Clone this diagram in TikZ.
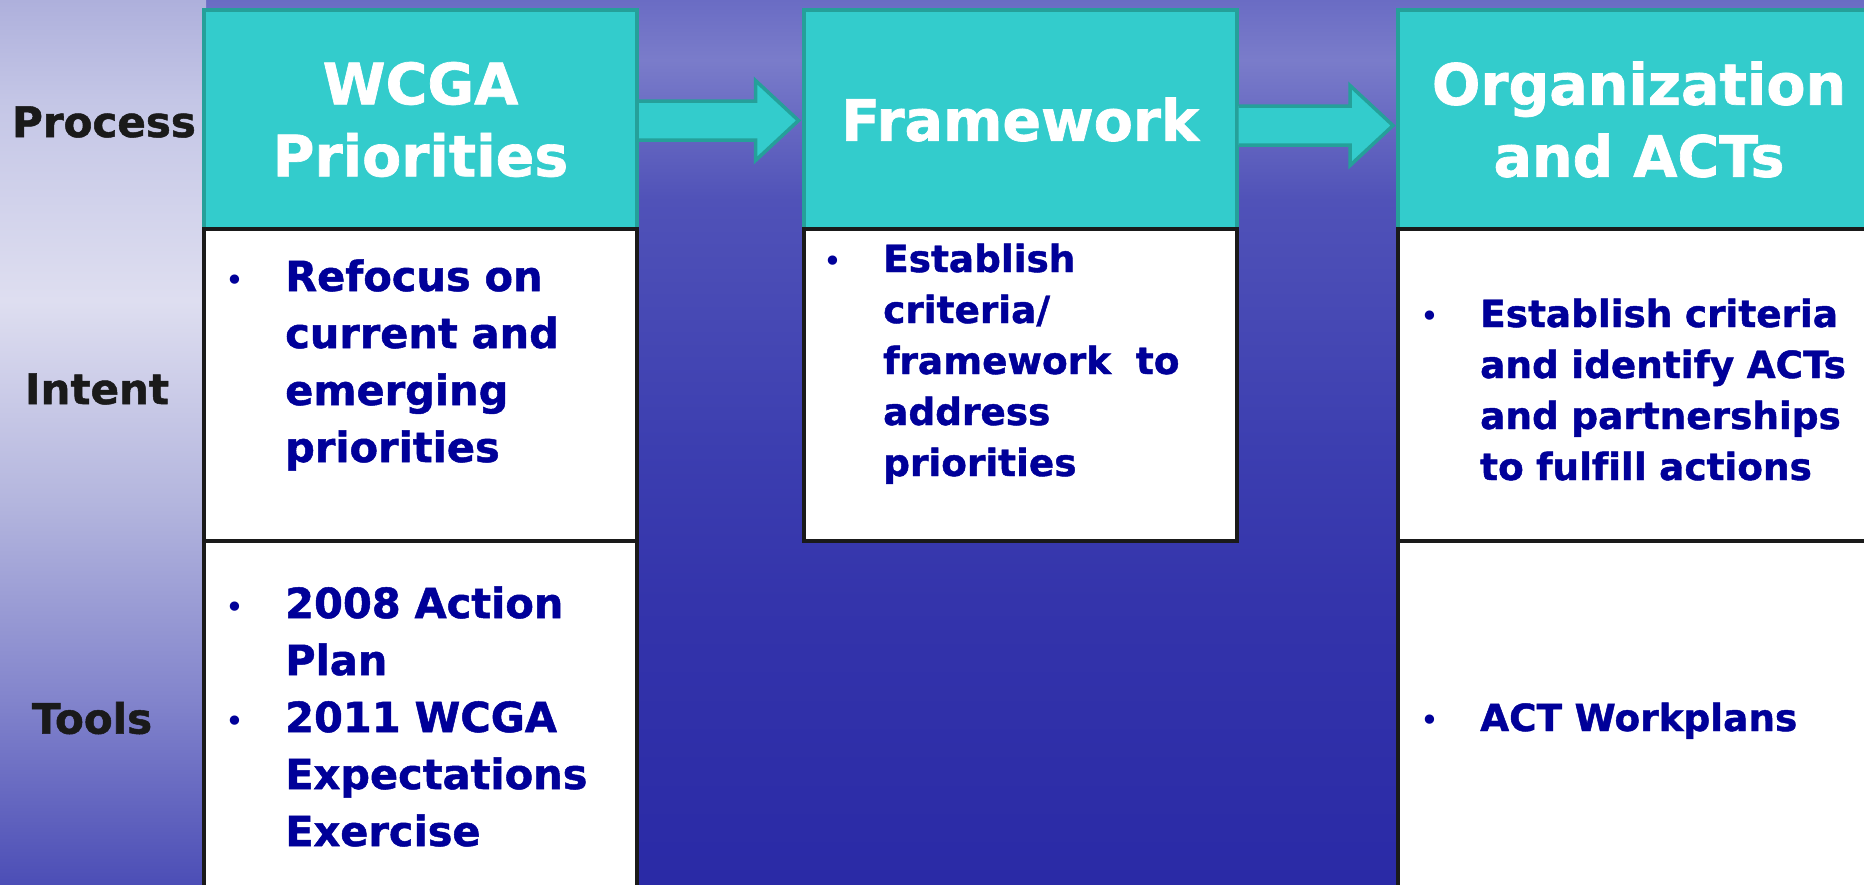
\documentclass[tikz,border=0pt]{standalone}
\usepackage{fontspec}
\setmainfont{DejaVu Sans}[Ligatures=CommonOff, BoldFeatures={FakeBold=1.2}]
\usetikzlibrary{calc}
\definecolor{tealf}{HTML}{33CCCC}
\definecolor{tealb}{HTML}{25A09A}
\definecolor{navyt}{HTML}{000099}
\definecolor{labc}{HTML}{1A1A1A}
\pgfdeclareverticalshading{mainbg}{100bp}{%
  color(0bp)=(rgb,255:red,42;green,42;blue,166);
  color(25bp)=(rgb,255:red,42;green,42;blue,166);
  color(41bp)=(rgb,255:red,52;green,52;blue,171);
  color(49.5bp)=(rgb,255:red,60;green,62;blue,176);
  color(63.7bp)=(rgb,255:red,80;green,82;blue,184);
  color(71.6bp)=(rgb,255:red,122;green,124;blue,202);
  color(75bp)=(rgb,255:red,106;green,108;blue,196);
  color(100bp)=(rgb,255:red,106;green,108;blue,196)}
\pgfdeclareverticalshading{leftbg}{100bp}{%
  color(0bp)=(rgb,255:red,76;green,78;blue,182);
  color(25bp)=(rgb,255:red,76;green,78;blue,182);
  color(35.4bp)=(rgb,255:red,130;green,132;blue,204);
  color(46.7bp)=(rgb,255:red,180;green,182;blue,222);
  color(58bp)=(rgb,255:red,222;green,222;blue,240);
  color(69.3bp)=(rgb,255:red,196;green,198;blue,230);
  color(75bp)=(rgb,255:red,174;green,176;blue,220);
  color(100bp)=(rgb,255:red,174;green,176;blue,220)}
\tikzset{
  head/.style={draw=tealb, line width=4pt, fill=tealf, text=white,
    font=\bfseries\fontsize{57}{72}\selectfont, align=center,
    minimum height=220pt, inner sep=0pt},
  panel/.style={draw=labc, line width=4pt, fill=white, inner sep=0pt},
  bodyA/.style={text=navyt, font=\bfseries\fontsize{41.5}{57}\selectfont,
    anchor=base west, inner sep=0pt, text width=420pt, align=left},
  bodyB/.style={text=navyt, font=\bfseries\fontsize{37.4}{51}\selectfont,
    anchor=base west, inner sep=0pt, text width=420pt, align=left},
  lbl/.style={text=labc, font=\bfseries\fontsize{42}{50}\selectfont, inner sep=0pt},
  flow/.style={draw=tealb, line width=3.5pt, fill=tealf, line join=miter},
}
\newcommand\bul{\leavevmode\llap{{\fontsize{32}{32}\selectfont\mdseries\textbullet}\hspace{41pt}}}
\newcommand\flowarrow[3]{%
  \draw[flow] ($(#1.east)+(0,#3-19.5)$) -- ($(#2.west)+(-46,#3-19.5)$)
    -- ($(#2.west)+(-46,#3-40)$) -- ($(#2.west)+(-3,#3)$)
    -- ($(#2.west)+(-46,#3+40)$) -- ($(#2.west)+(-46,#3+19.5)$)
    -- ($(#1.east)+(0,#3+19.5)$);}
\begin{document}
\begin{tikzpicture}[x=1pt,y=-1pt]
\useasboundingbox (0,0) rectangle (1864,884);
\clip (0,0) rectangle (1864,884);
% background
\shade[shading=mainbg] (0,0) rectangle (1864,884);
\shade[shading=leftbg] (0,0) rectangle (206,884);
% headers
\node[head, minimum width=433pt] (h1) at (420.5,119.5) {WCGA\\Priorities};
\node[head, minimum width=433pt] (h2) at (1020,119.5) {Framework};
\node[head, minimum width=482pt] (h3) at (1639,119.5) {Organization\\and ACTs};
% panels
\node[panel, minimum width=433pt, minimum height=311.5pt] (i1) at (420.5,385.2) {};
\node[panel, minimum width=433pt, minimum height=311.5pt] (i2) at (1020,385.2) {};
\node[panel, minimum width=482pt, minimum height=311.5pt] (i3) at (1639,385.2) {};
\node[panel, minimum width=433pt, minimum height=370pt] (t1) at (420.5,725.9) {};
\node[panel, minimum width=482pt, minimum height=370pt] (t3) at (1639,725.9) {};
% arrows
\flowarrow{h1}{h2}{1}
\flowarrow{h2}{h3}{6}
% body text
\node[bodyA] (x1) at (285,291) {\bul Refocus on\\current and\\emerging\\priorities};
\node[bodyA] (x2) at (285,618) {\bul 2008 Action\\Plan\\\bul 2011 WCGA\\Expectations\\Exercise};
\node[bodyB] (x3) at (883,272) {\bul Establish\\criteria/\\framework\ \ to\\address\\priorities};
\node[bodyB] (x4) at (1480,327) {\bul Establish criteria\\and identify ACTs\\and partnerships\\to fulfill actions};
\node[bodyB] (x5) at (1480,731) {\bul ACT Workplans};
% row labels
\node[lbl] (lp) at (104,122) {Process};
\node[lbl] (li) at (97,389) {Intent};
\node[lbl] (lt) at (92,718) {Tools};
\end{tikzpicture}
\end{document}
